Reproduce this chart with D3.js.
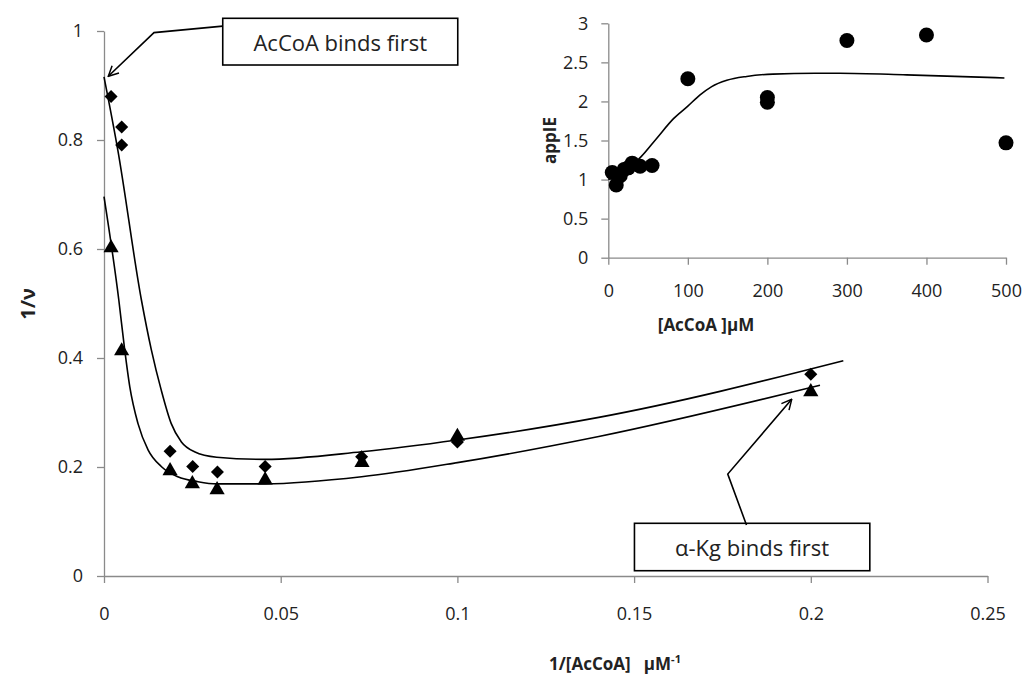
<!DOCTYPE html>
<html>
<head>
<meta charset="utf-8">
<script src="https://cdn.jsdelivr.net/npm/d3@7"></script>
<style>
  body { margin: 0; background: #fff; }
  svg { display: block; font-family: "Open Sans", sans-serif; }
</style>
</head>
<body>
<svg id="chart" width="1024" height="696"></svg>
<script>
// main plot data: 1/[AcCoA] vs 1/v
const diamondX = [0.002, 0.005, 0.005, 0.0187, 0.0251, 0.0321, 0.0456, 0.0729, 0.1, 0.2];
const diamondY = [0.88, 0.824, 0.791, 0.229, 0.201, 0.191, 0.201, 0.219, 0.246, 0.370];
const triangleX = [0.002, 0.005, 0.0187, 0.025, 0.032, 0.0456, 0.073, 0.1, 0.2];
const triangleY = [0.602, 0.413, 0.193, 0.169, 0.158, 0.176, 0.208, 0.256, 0.338];

// fitted curves
const upperCurveX = [0, 0.0039, 0.0106, 0.0134, 0.0162, 0.019, 0.0219, 0.0256, 0.0319, 0.0456, 0.0729, 0.1, 0.14, 0.2092];
const upperCurveY = [0.916, 0.782, 0.506, 0.415, 0.341, 0.280, 0.246, 0.228, 0.218, 0.214, 0.228, 0.2495, 0.291, 0.395];
const lowerCurveX = [0, 0.0042, 0.0058, 0.0073, 0.0096, 0.0125, 0.0162, 0.0209, 0.0266, 0.0319, 0.0456, 0.0729, 0.1, 0.14, 0.2026];
const lowerCurveY = [0.696, 0.506, 0.418, 0.347, 0.280, 0.231, 0.201, 0.182, 0.173, 0.169, 0.169, 0.182, 0.208, 0.256, 0.350];

const mainXTicks = [0, 0.05, 0.1, 0.15, 0.2, 0.25];
const mainYTicks = [0, 0.2, 0.4, 0.6, 0.8, 1];

// inset data: [AcCoA] vs appIE
const insetX = [5, 10, 15, 20, 25, 30, 40, 55, 100, 200, 200, 300, 400, 500];
const insetY = [1.09, 0.93, 1.05, 1.13, 1.15, 1.21, 1.17, 1.18, 2.29, 2.05, 1.99, 2.78, 2.85, 1.47];
const insetCurveX = [0, 20, 41, 61, 82, 100, 115, 130, 149, 174, 207, 260, 291, 375, 498];
const insetCurveY = [1.0, 1.1, 1.29, 1.53, 1.78, 1.94, 2.08, 2.19, 2.27, 2.32, 2.35, 2.36, 2.36, 2.34, 2.30];
const insetXTicks = [0, 100, 200, 300, 400, 500];
const insetYTicks = [0, 0.5, 1, 1.5, 2, 2.5, 3];

const svg = d3.select("#chart");
const axisColor = "#8a8a8a";
const textColor = "#222";

// arrow head marker
svg.append("defs").append("marker")
    .attr("id", "arrow")
    .attr("viewBox", "0 0 12 12")
    .attr("refX", 11)
    .attr("refY", 6)
    .attr("markerWidth", 12)
    .attr("markerHeight", 12)
    .attr("markerUnits", "userSpaceOnUse")
    .attr("orient", "auto")
  .append("path")
    .attr("d", "M1,1 L11,6 L1,11")
    .attr("fill", "none")
    .attr("stroke", "#000")
    .attr("stroke-width", 1.5);

// ---------- main chart ----------
const x = d3.scaleLinear().domain([0, 0.25]).range([104, 987.5]);
const y = d3.scaleLinear().domain([0, 1]).range([576, 31]);

function styleAxis(g) {
    g.select(".domain").attr("stroke", axisColor).attr("stroke-width", 1.3);
    g.selectAll(".tick line").attr("stroke", axisColor).attr("stroke-width", 1.3);
    g.selectAll(".tick text").attr("fill", textColor).attr("font-size", 18)
        .attr("font-family", "'Open Sans', sans-serif");
}

svg.append("g")
    .attr("transform", `translate(0,${y(0)})`)
    .call(d3.axisBottom(x).tickValues(mainXTicks).tickFormat(d3.format("")).tickSize(7).tickSizeOuter(0).tickPadding(24))
    .call(styleAxis);

svg.append("g")
    .attr("transform", `translate(${x(0)},0)`)
    .call(d3.axisLeft(y).tickValues(mainYTicks).tickFormat(d3.format("")).tickSize(7).tickSizeOuter(0).tickPadding(14))
    .call(styleAxis);

const line = d3.line().x(d => x(d[0])).y(d => y(d[1])).curve(d3.curveMonotoneX);

svg.append("path")
    .datum(d3.zip(upperCurveX, upperCurveY))
    .attr("d", line)
    .attr("fill", "none")
    .attr("stroke", "#000")
    .attr("stroke-width", 1.6);

svg.append("path")
    .datum(d3.zip(lowerCurveX, lowerCurveY))
    .attr("d", line)
    .attr("fill", "none")
    .attr("stroke", "#000")
    .attr("stroke-width", 1.6);

svg.append("g").selectAll("path")
    .data(d3.zip(diamondX, diamondY))
    .join("path")
    .attr("d", d3.symbol(d3.symbolSquare, 85))
    .attr("transform", d => `translate(${x(d[0])},${y(d[1])}) rotate(45)`)
    .attr("fill", "#000");

svg.append("g").selectAll("path")
    .data(d3.zip(triangleX, triangleY))
    .join("path")
    .attr("d", d3.symbol(d3.symbolTriangle, 100))
    .attr("transform", d => `translate(${x(d[0])},${y(d[1])})`)
    .attr("fill", "#000");

// axis titles
svg.append("text")
    .attr("transform", "translate(27,304) rotate(-90)")
    .attr("text-anchor", "middle")
    .attr("dominant-baseline", "central")
    .attr("font-weight", "bold")
    .attr("font-size", 20)
    .attr("fill", textColor)
    .text("1/ν");

const xTitle = svg.append("text")
    .attr("x", 615)
    .attr("y", 670)
    .attr("text-anchor", "middle")
    .attr("font-weight", "bold")
    .attr("font-size", 17)
    .attr("fill", textColor);
xTitle.append("tspan").text("1/[AcCoA]\u00a0\u00a0 μM");
xTitle.append("tspan").attr("font-size", 11).attr("dy", -7).text("-1");

// callouts (positions in data units)
function callout(box, pts, label) {
    svg.append("rect")
        .attr("x", x(box[0]))
        .attr("y", y(box[1]))
        .attr("width", x(box[2]) - x(box[0]))
        .attr("height", y(box[3]) - y(box[1]))
        .attr("fill", "#fff")
        .attr("stroke", "#000")
        .attr("stroke-width", 1.6);
    svg.append("text")
        .attr("x", (x(box[0]) + x(box[2])) / 2)
        .attr("y", (y(box[1]) + y(box[3])) / 2)
        .attr("text-anchor", "middle")
        .attr("dominant-baseline", "central")
        .attr("font-size", 22)
        .attr("fill", textColor)
        .text(label);
    svg.append("path")
        .attr("d", d3.line()(pts.map(p => [x(p[0]), y(p[1])])))
        .attr("fill", "none")
        .attr("stroke", "#000")
        .attr("stroke-width", 1.6)
        .attr("marker-end", "url(#arrow)");
}

callout([0.0336, 1.0233, 0.1001, 0.9376],
    [[0.0336, 1.009], [0.01415, 0.997], [0.00122, 0.917]],
    "AcCoA binds first");
callout([0.1501, 0.0967, 0.2167, 0.0097],
    [[0.1818, 0.0936], [0.1765, 0.187], [0.1946, 0.3242]],
    "α-Kg binds first");

// ---------- inset ----------
const ix = d3.scaleLinear().domain([0, 500]).range([608.3, 1006]);
const iy = d3.scaleLinear().domain([0, 3]).range([257.7, 23.3]);

svg.append("g")
    .attr("transform", `translate(0,${iy(0)})`)
    .call(d3.axisBottom(ix).tickValues(insetXTicks).tickSize(7).tickSizeOuter(0).tickPadding(20))
    .call(styleAxis);

svg.append("g")
    .attr("transform", `translate(${ix(0)},0)`)
    .call(d3.axisLeft(iy).tickValues(insetYTicks).tickFormat(d3.format("")).tickSize(7).tickSizeOuter(0).tickPadding(13))
    .call(styleAxis);

svg.append("path")
    .datum(d3.zip(insetCurveX, insetCurveY))
    .attr("d", d3.line().x(d => ix(d[0])).y(d => iy(d[1])).curve(d3.curveMonotoneX))
    .attr("fill", "none")
    .attr("stroke", "#000")
    .attr("stroke-width", 1.6);

svg.append("g").selectAll("circle")
    .data(d3.zip(insetX, insetY))
    .join("circle")
    .attr("cx", d => ix(d[0]))
    .attr("cy", d => iy(d[1]))
    .attr("r", 7.5)
    .attr("fill", "#000");

svg.append("text")
    .attr("transform", `translate(549,${(iy(0) + iy(3)) / 2}) rotate(-90)`)
    .attr("text-anchor", "middle")
    .attr("dominant-baseline", "central")
    .attr("font-weight", "bold")
    .attr("font-size", 17)
    .attr("fill", textColor)
    .text("appIE");

svg.append("text")
    .attr("x", 706)
    .attr("y", 331)
    .attr("text-anchor", "middle")
    .attr("font-weight", "bold")
    .attr("font-size", 17)
    .attr("fill", textColor)
    .text("[AcCoA ]μM");
</script>
</body>
</html>
